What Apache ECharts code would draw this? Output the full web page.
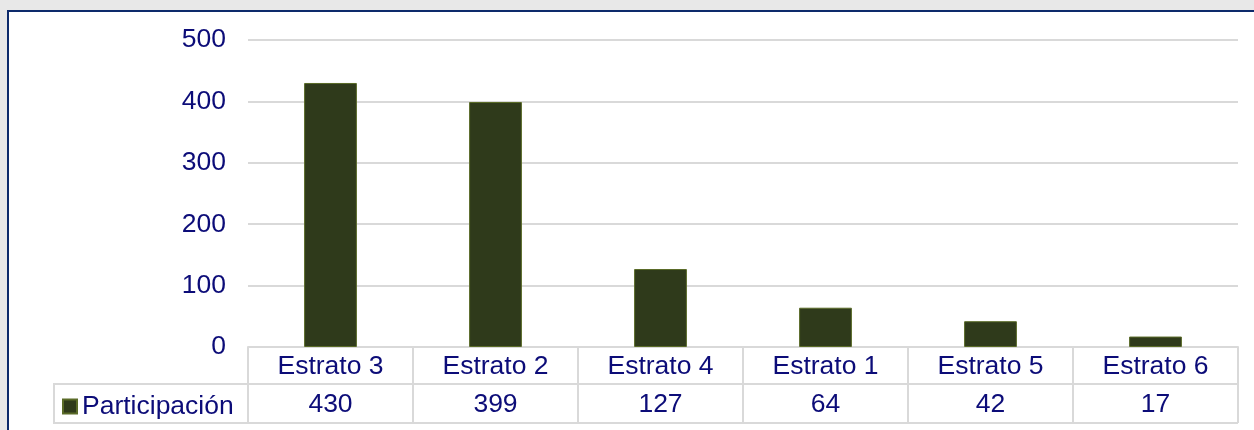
<!DOCTYPE html>
<html>
<head>
<meta charset="utf-8">
<script src="https://cdn.jsdelivr.net/npm/echarts@6/dist/echarts.min.js"></script>
<style>
  html, body { margin: 0; padding: 0; background: #e8e8e8; }
  #frame { position: absolute; left: 7px; top: 10px; width: 1300px; height: 500px;
           background: #ffffff; border-left: 2px solid #0d2a6b; border-top: 2px solid #0d2a6b; }
  #chart { position: absolute; left: 0; top: 0; width: 1254px; height: 430px; }
</style>
</head>
<body>
<div id="frame"></div>
<div id="chart"></div>
<script>
  var categories = ['Estrato 3', 'Estrato 2', 'Estrato 4', 'Estrato 1', 'Estrato 5', 'Estrato 6'];
  var values = [430, 399, 127, 64, 42, 17];
  var seriesName = 'Participación';

  var textColor = '#0c0c78';
  var lineColor = '#d9d9d9';
  var font = "'Liberation Sans', Arial, sans-serif";
  var fs = 26.5;

  var myChart = echarts.init(document.getElementById('chart'));
  var option = {
    backgroundColor: 'transparent',
    textStyle: { fontFamily: font },
    grid: { left: 248, right: 16, top: 40, bottom: 83 },
    legend: {
      data: [seriesName],
      left: 57,
      top: 388,
      icon: 'rect',
      itemWidth: 14,
      itemHeight: 14,
      itemGap: 6,
      textStyle: { color: textColor, fontSize: fs, fontFamily: font, padding: [0, 0, 0, 0] }
    },
    xAxis: [
      {
        type: 'category',
        data: categories,
        axisLine: { show: true, lineStyle: { color: lineColor, width: 2 } },
        axisTick: { show: true, interval: 0, length: 76, lineStyle: { color: lineColor, width: 2 } },
        axisLabel: { interval: 0, margin: 6, color: textColor, fontSize: fs, fontFamily: font, lineHeight: 28 }
      },
      {
        type: 'category',
        position: 'bottom',
        offset: 37,
        data: categories,
        axisLine: { show: true, lineStyle: { color: lineColor, width: 2 } },
        axisTick: { show: false },
        axisLabel: {
          interval: 0, margin: 7, color: textColor, fontSize: fs, fontFamily: font, lineHeight: 28,
          formatter: function (v, i) { return values[i]; }
        }
      }
    ],
    yAxis: {
      type: 'value',
      min: 0,
      max: 500,
      interval: 100,
      axisLine: { show: false },
      axisTick: { show: false },
      axisLabel: { margin: 22, color: textColor, fontSize: fs, fontFamily: font, padding: [6, 0, 0, 0] },
      splitLine: { lineStyle: { color: lineColor, width: 2 } }
    },
    graphic: [
      { type: 'line', shape: { x1: 54, y1: 384, x2: 248, y2: 384 }, style: { stroke: lineColor, lineWidth: 2 } },
      { type: 'line', shape: { x1: 54, y1: 423, x2: 1238, y2: 423 }, style: { stroke: lineColor, lineWidth: 2 } },
      { type: 'line', shape: { x1: 54, y1: 383, x2: 54, y2: 424 }, style: { stroke: lineColor, lineWidth: 2 } }
    ],
    series: [
      {
        name: seriesName,
        type: 'bar',
        barWidth: '32%',
        itemStyle: { color: '#2f3a1b', borderColor: '#5a6b28', borderWidth: 1 },
        data: values
      }
    ]
  };
  myChart.setOption(option);
</script>
</body>
</html>
